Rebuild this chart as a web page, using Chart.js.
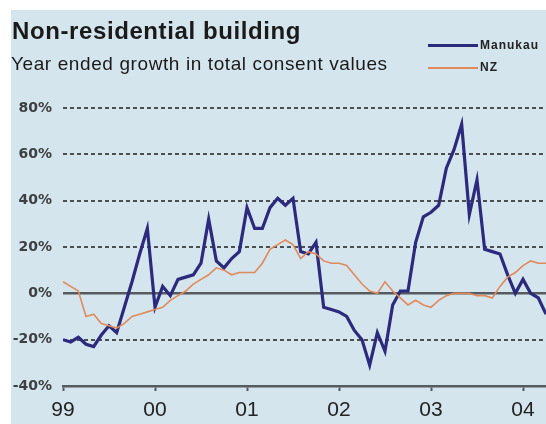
<!DOCTYPE html>
<html>
<head>
<meta charset="utf-8">
<script src="https://cdn.jsdelivr.net/npm/chart.js@4"></script>
<style>
    html, body { margin: 0; padding: 0; background: #ffffff; }
    #wrap { position: relative; width: 546px; height: 424px; overflow: hidden; background: #ffffff; }
    #panel { position: absolute; left: 11px; top: 10px; width: 535px; height: 414px; background: #d5e5ee; }
    #chart { position: absolute; left: 0; top: 0; }
    .title { position: absolute; left: 12px; top: 17px; font: bold 24px "Liberation Sans", Arial, sans-serif; letter-spacing: 0.6px; color: #1a1a1a; white-space: nowrap; }
    .subtitle { position: absolute; left: 11px; top: 53px; font: 19px "Liberation Sans", Arial, sans-serif; letter-spacing: 0.6px; color: #1a1a1a; white-space: nowrap; }
    .key { position: absolute; left: 428px; font: bold 12px "Liberation Sans", Arial, sans-serif; letter-spacing: 1px; color: #222; white-space: nowrap; }
    .key span { display: inline-block; width: 50px; vertical-align: middle; margin-right: 2px; }
</style>
</head>
<body>
<div id="wrap">
    <div id="panel"></div>
    <canvas id="chart" width="546" height="424"></canvas>
    <div class="title">Non-residential building</div>
    <div class="subtitle">Year ended growth in total consent values</div>
    <div class="key" style="top:38px"><span style="border-top:3px solid #2b2a7c"></span>Manukau</div>
    <div class="key" style="top:60px"><span style="border-top:2px solid #e08a5c"></span>NZ</div>
</div>
<script>
// Monthly values from Jan 1999, year ended growth (%)
const yearLabels = ['99', '00', '01', '02', '03', '04'];
const yTicks = [-40, -20, 0, 20, 40, 60, 80];

const manukau = [
    -20, -21, -19, -22, -23, -18, -14, -17, -6, 5, 17, 28,
    -6, 3, -1, 6, 7, 8, 13, 32, 14, 11, 15, 18,
    37, 28, 28, 37, 41, 38, 41, 18, 17, 22, -6, -7,
    -8, -10, -16, -20, -31, -17, -25, -5, 1, 1, 22, 33,
    35, 38, 54, 62, 73, 34, 49, 19, 18, 17, 8, 0,
    6, 0, -2, -9
];

const nz = [
    5, 3, 1, -10, -9, -13, -14, -15, -13, -10, -9, -8,
    -7, -6, -3, -1, 1, 4, 6, 8, 11, 10, 8, 9,
    9, 9, 13, 19, 21, 23, 21, 15, 18, 17, 14, 13,
    13, 12, 8, 4, 1, 0, 5, 1, -2, -5, -3, -5,
    -6, -3, -1, 0, 0, 0, -1, -1, -2, 3, 7, 9,
    12, 14, 13, 13
];

const toPoints = arr => arr.map((v, i) => ({ x: i, y: v }));

// Solid line at 0%
const zeroLine = {
    id: 'zeroLine',
    beforeDatasetsDraw(chart) {
        const ctx = chart.ctx;
        const area = chart.chartArea;
        const y = chart.scales.y.getPixelForValue(0);
        ctx.save();
        ctx.strokeStyle = '#555b5e';
        ctx.lineWidth = 2.5;
        ctx.beginPath();
        ctx.moveTo(area.left, y);
        ctx.lineTo(area.right, y);
        ctx.stroke();
        ctx.restore();
    }
};

new Chart(document.getElementById('chart'), {
    type: 'line',
    data: {
        datasets: [
            {
                label: 'NZ',
                data: toPoints(nz),
                borderColor: '#e08a5c',
                borderWidth: 1.6,
                pointRadius: 0,
                tension: 0
            },
            {
                label: 'Manukau',
                data: toPoints(manukau),
                borderColor: '#2b2a7c',
                borderWidth: 3.2,
                pointRadius: 0,
                tension: 0
            }
        ]
    },
    options: {
        responsive: false,
        animation: false,
        layout: { padding: { top: 108, left: 0, right: 0, bottom: 0 } },
        plugins: {
            legend: { display: false },
            tooltip: { enabled: false }
        },
        scales: {
            x: {
                type: 'linear',
                min: 0,
                max: 63,
                afterBuildTicks: scale => {
                    scale.ticks = yearLabels.map((_, i) => ({ value: i * 12 }));
                },
                afterFit: scale => { scale.height = 38; },
                ticks: {
                    callback: (v) => yearLabels[v / 12],
                    color: '#222',
                    font: { family: 'Liberation Sans', size: 21 },
                    padding: 7,
                    maxRotation: 0
                },
                grid: {
                    drawOnChartArea: false,
                    drawTicks: true,
                    tickLength: 5,
                    tickWidth: 2,
                    tickColor: '#555b5e'
                },
                border: { display: true, color: '#555b5e', width: 2.5 }
            },
            y: {
                min: -40,
                max: 80,
                afterBuildTicks: scale => {
                    scale.ticks = yTicks.map(v => ({ value: v }));
                },
                afterFit: scale => { scale.width = 63; },
                ticks: {
                    callback: v => v + '%',
                    color: '#3d4042',
                    font: { family: 'DejaVu Sans', size: 14, weight: 'bold' },
                    padding: 11
                },
                grid: {
                    color: ctx => (ctx.tick && (ctx.tick.value === 0 || ctx.tick.value === -40)) ? 'rgba(0,0,0,0)' : '#4a4f52',
                    lineWidth: 2,
                    drawTicks: false
                },
                border: { display: false, dash: [4, 3] }
            }
        }
    },
    plugins: [zeroLine]
});
</script>
</body>
</html>
